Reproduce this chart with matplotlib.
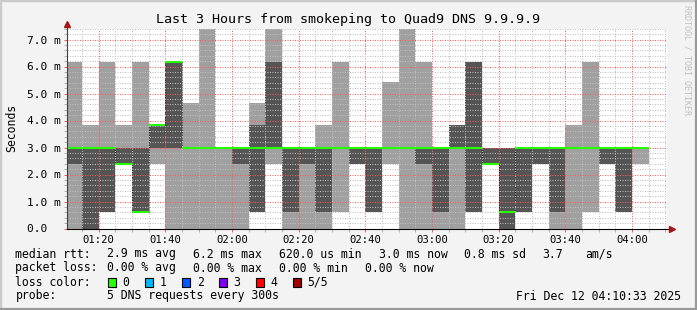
import numpy as np
import matplotlib.pyplot as plt
from matplotlib.ticker import MultipleLocator, FuncFormatter

# smokeping style graph, 5 pings per 300s step, values in ms
# each bin is labelled by its end time (rrd style)
bin_end = ['01:15', '01:20', '01:25', '01:30', '01:35', '01:40', '01:45',
           '01:50', '01:55', '02:00', '02:05', '02:10', '02:15', '02:20',
           '02:25', '02:30', '02:35', '02:40', '02:45', '02:50', '02:55',
           '03:00', '03:05', '03:10', '03:15', '03:20', '03:25', '03:30',
           '03:35', '03:40', '03:45', '03:50', '03:55', '04:00', '04:05']

# sorted ping results per bin (ping1 = fastest, ping5 = slowest)
ping1 = [0.0, 0.0, 0.62, 2.4, 0.62, 2.4, 0.0, 0.0, 0.0, 0.0, 0.0, 0.62,
         2.4, 0.0, 0.0, 0.0, 0.62, 2.4, 0.62, 2.4, 0.0, 0.0, 0.0, 0.0,
         0.62, 2.4, 0.0, 0.62, 2.4, 0.0, 0.0, 0.62, 2.4, 0.62, 2.4]
ping2 = [2.4, 0.0, 0.62, 2.4, 0.62, 3.0, 3.0, 3.0, 3.0, 3.0, 2.4, 0.62,
         3.0, 0.62, 2.4, 0.62, 3.0, 2.4, 0.62, 3.0, 3.0, 2.4, 0.62, 3.0,
         0.62, 2.4, 0.0, 0.62, 2.4, 0.62, 3.0, 3.0, 2.4, 0.62, 3.0]
median = [3.0, 3.0, 3.0, 2.4, 0.62, 3.83, 6.17, 3.0, 3.0, 3.0, 3.0, 3.0,
          3.0, 3.0, 3.0, 3.0, 3.0, 3.0, 3.0, 3.0, 3.0, 3.0, 3.0, 3.0,
          3.0, 2.4, 0.62, 3.0, 3.0, 3.0, 3.0, 3.0, 3.0, 3.0, 3.0]
ping4 = [3.0, 3.0, 3.0, 3.0, 3.0, 3.83, 6.17, 3.0, 3.0, 3.0, 3.0, 3.83,
         6.17, 3.0, 3.0, 3.0, 3.0, 3.0, 3.0, 3.0, 3.0, 3.0, 3.0, 3.83,
         6.17, 3.0, 3.0, 3.0, 3.0, 3.0, 3.0, 3.0, 3.0, 3.0, 3.0]
ping5 = [6.17, 3.83, 6.17, 3.83, 6.17, 3.83, 6.17, 4.63, 7.38, 3.0, 3.0, 4.63,
         7.38, 3.0, 3.0, 3.83, 6.17, 3.0, 3.0, 5.44, 7.38, 6.17, 3.0, 3.83,
         6.17, 3.0, 3.0, 3.0, 3.0, 3.0, 3.83, 6.17, 3.0, 3.0, 3.0]

loss_labels = ['0', '1', '2', '3', '4', '5/5']
loss_colors = ['#26ff00', '#00b8ff', '#0059ff', '#7e00ff', '#ff0000', '#a00000']

W, H = 697, 310
start = '01:10:33'
end = '04:10:33'


def minutes(s):
    parts = [int(p) for p in s.split(':')]
    while len(parts) < 3:
        parts.append(0)
    return parts[0] * 60 + parts[1] + parts[2] / 60.0


ends = np.array([minutes(t) for t in bin_end])
edges = np.concatenate([[ends[0] - 5], ends])

fig = plt.figure(figsize=(W / 100, H / 100), dpi=100, facecolor='#f3f3f3')
mono = 'DejaVu Sans Mono'

# 600x200 px canvas like rrdtool
ax = fig.add_axes([67 / W, 1 - 228.5 / H, 600 / W, 200 / H])
ax.set_facecolor('white')
ax.set_xlim(minutes(start), minutes(end))
ax.set_ylim(0, 200 / 27.0)

# smoke: outer range light, inner range dark
ax.stairs(ping5, edges, baseline=ping1, fill=True, color='#a0a0a0', lw=0, zorder=1)
ax.stairs(ping4, edges, baseline=ping2, fill=True, color='#555555', lw=0, zorder=1.1)
# median steps (dotted) and coloured median line
ax.stairs(median, edges, baseline=None, color='black', lw=0.72,
          linestyle=(0, (1, 1)), zorder=1.2)
ax.hlines(median, edges[:-1], edges[1:], color=loss_colors[0], lw=1.5, zorder=3)

# grid on top of the smoke
ax.set_axisbelow(False)
ax.xaxis.set_major_locator(MultipleLocator(20))
ax.xaxis.set_minor_locator(MultipleLocator(5))
ax.yaxis.set_major_locator(MultipleLocator(1))
ax.yaxis.set_minor_locator(MultipleLocator(0.2))
ax.grid(which='minor', color=(0.75, 0.75, 0.75, 0.45), lw=0.72, linestyle=(0, (1, 1.5)))
ax.grid(which='major', color=(1.0, 0.35, 0.35, 0.45), lw=0.72, linestyle=(0, (1, 1.5)))

ax.xaxis.set_major_formatter(FuncFormatter(lambda v, p: '%02d:%02d' % (int(v) // 60, int(v) % 60)))
ax.yaxis.set_major_formatter(FuncFormatter(lambda v, p: '0.0  ' if v == 0 else '%.1f m' % v))
ax.tick_params(which='both', direction='out', width=0.72, length=2.2)
ax.tick_params(which='major', colors=(1.0, 0.35, 0.35))
ax.tick_params(which='minor', colors=(0.7, 0.7, 0.7))
ax.tick_params(axis='x', which='major', labelcolor='black', labelsize=7.6, pad=2.2)
ax.tick_params(axis='y', which='major', labelcolor='black', labelsize=8.0, pad=2.6)
for lab in ax.get_xticklabels() + ax.get_yticklabels():
    lab.set_family(mono)

for s in ax.spines.values():
    s.set_visible(False)

# axes with arrows
ax.plot([0, 0], [0, 1 + 5 / 200], transform=ax.transAxes, color='#404040', lw=0.8, clip_on=False, zorder=4)
ax.plot([0, 1 + 4 / 600], [0, 0], transform=ax.transAxes, color='black', lw=0.8, clip_on=False, zorder=4)
ax.plot([0], [1 + 5 / 200], marker='^', ms=4, color='#a01818', transform=ax.transAxes, clip_on=False, zorder=5)
ax.plot([1 + 5 / 600], [0], marker='>', ms=4, color='#a01818', transform=ax.transAxes, clip_on=False, zorder=5)


def px(x, y):
    return x / W, 1 - y / H


fig.text(*px(348, 19), 'Last 3 Hours from smokeping to Quad9 DNS 9.9.9.9',
         family=mono, size=9.6, ha='center', va='center')
fig.text(*px(11.5, 128), 'Seconds', family=mono, size=8.3, rotation=90, ha='center', va='center')
fig.text(*px(687.5, 5), 'RRDTOOL / TOBI OETIKER', family=mono, size=6.0, rotation=-90,
         ha='center', va='top', color='#c0c0c0')

# legend block
fs = 8.3
rows = [
    [(16, 'median rtt:'), (107.3, '2.9 ms avg'), (193.3, '6.2 ms max'),
     (279.3, '620.0 us min'), (379.3, '3.0 ms now'), (465, '0.8 ms sd'),
     (543.3, '3.7'), (586, 'am/s')],
    [(16, 'packet loss:'), (107.3, '0.00 % avg'), (193.3, '0.00 % max'),
     (279.3, '0.00 % min'), (365.7, '0.00 % now')],
    [(16, 'loss color:')],
    [(16, 'probe:'), (107.3, '5 DNS requests every 300s')],
]
for i, row in enumerate(rows):
    base = 257.5 + 14 * i
    for x, t in row:
        fig.text(*px(x - 0.6, base), t, family=mono, size=fs, ha='left', va='baseline')

for i, (lab, col) in enumerate(zip(loss_labels, loss_colors)):
    x0 = 108.3 + 37 * i
    fig.patches.append(plt.Rectangle(px(x0, 286.5), 7.5 / W, 9 / H, transform=fig.transFigure,
                                     facecolor=col, edgecolor='black', lw=0.8))
    fig.text(*px(x0 + 14.4, 285.5), lab, family=mono, size=fs, ha='left', va='baseline')

fig.text(*px(680.5, 299.5), 'Fri Dec 12 04:10:33 2025', family=mono, size=fs,
         ha='right', va='baseline')

# 3d-ish frame
fig.add_artist(plt.Line2D([0, 0, 1], [0, 1, 1], transform=fig.transFigure, color='#cbcbcb', lw=2.5))
fig.add_artist(plt.Line2D([0, 1, 1], [0, 0, 1], transform=fig.transFigure, color='#999999', lw=3))

fig.savefig('out.png', dpi=100, facecolor=fig.get_facecolor())
